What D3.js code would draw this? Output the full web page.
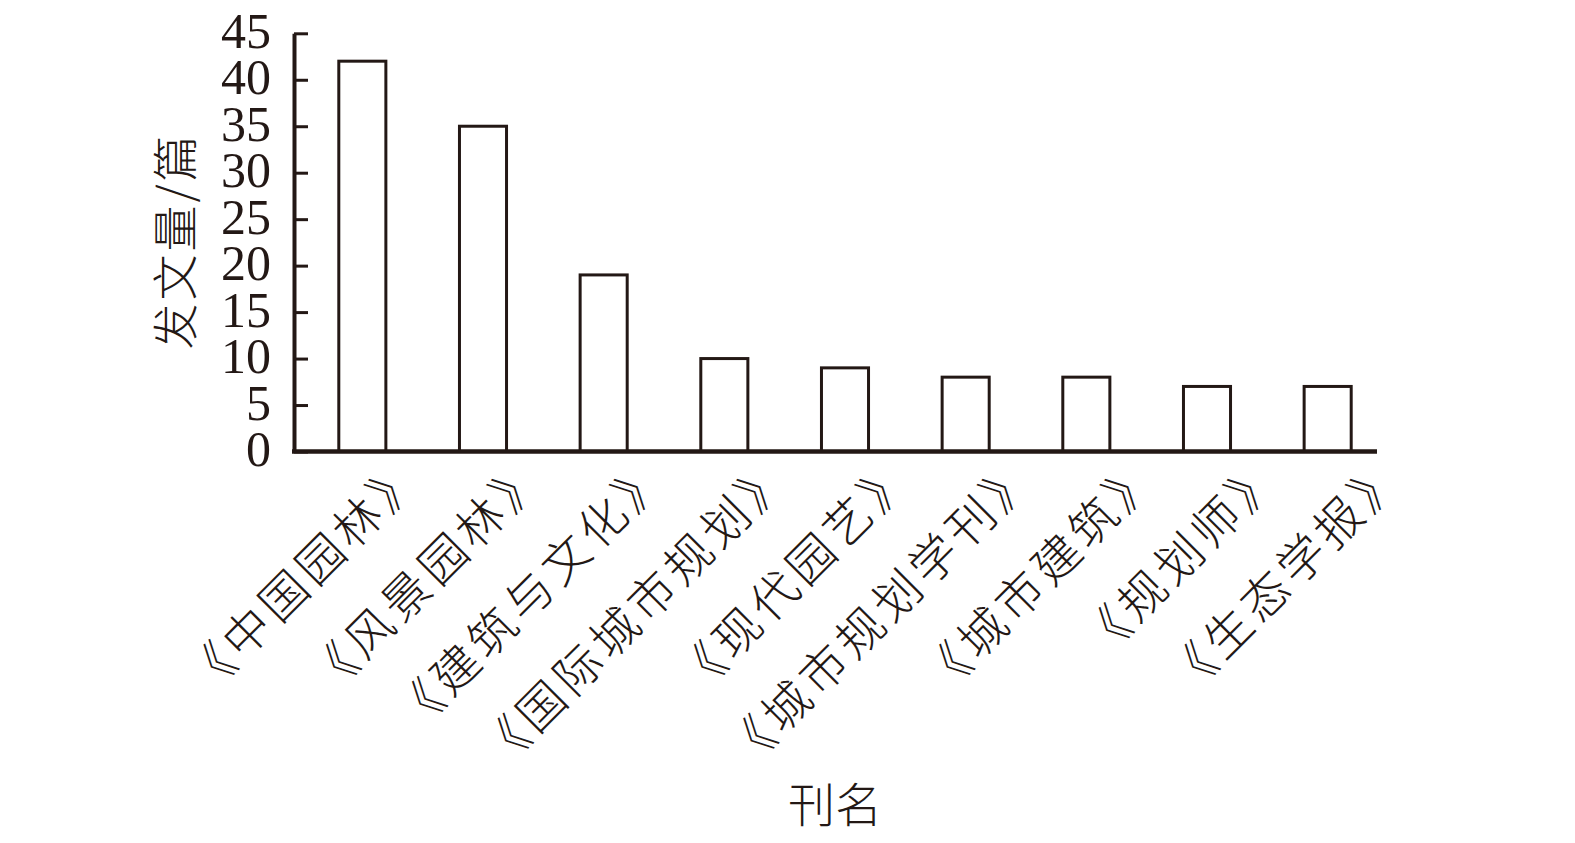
<!DOCTYPE html>
<html><head><meta charset="utf-8">
<script src="https://cdn.jsdelivr.net/npm/d3@7/dist/d3.min.js"></script>
<style>
html,body{margin:0;padding:0;background:#fff;}
svg{display:block;}
</style></head>
<body>
<svg id="chart" width="1575" height="843"></svg>
<script>
const categories = ["《中国园林》","《风景园林》","《建筑与文化》","《国际城市规划》","《现代园艺》","《城市规划学刊》","《城市建筑》","《规划师》","《生态学报》"];
const values = [42, 35, 19, 10, 9, 8, 8, 7, 7];
const yTicks = [0, 5, 10, 15, 20, 25, 30, 35, 40, 45];
const yTitle = "发文量/篇";
const xTitle = "刊名";

const ink = "#231815";
const svg = d3.select("#chart");
svg.append("rect").attr("width",1575).attr("height",843).attr("fill","#fff");

const y = d3.scaleLinear().domain([0,45]).range([451.5, 33.3]);
const x = d3.scaleBand().domain(categories).range([302, 1388]).paddingInner(0.61).paddingOuter(0.305);
// label anchor positions (labels in the source are spaced slightly wider than the bars)
const xl = d3.scalePoint().domain(categories).range([362.3, 1343.5]);
const axisX0 = 294, axisX1 = 1377;

// bars
svg.append("g").selectAll("rect").data(values).join("rect")
  .attr("x", (d,i)=>x(categories[i]))
  .attr("y", d=>y(d))
  .attr("width", x.bandwidth())
  .attr("height", d=>y(0)-y(d))
  .attr("fill","#fff").attr("stroke",ink).attr("stroke-width",3);

// y axis
const yAxis = d3.axisLeft(y).tickValues(yTicks).tickSizeInner(-14).tickSizeOuter(0).tickPadding(23);
const gy = svg.append("g").attr("transform",`translate(${axisX0},0)`).call(yAxis);
gy.select(".domain").attr("stroke",ink).attr("stroke-width",4);
gy.selectAll(".tick line").attr("stroke",ink).attr("stroke-width",3);
gy.selectAll(".tick text").attr("fill",ink)
  .style("font-family","'Liberation Serif','Times New Roman',serif")
  .style("font-size","50px").attr("dy","0.28em");

// x axis line
svg.append("line").attr("x1",axisX0-2).attr("x2",axisX1).attr("y1",y(0)).attr("y2",y(0))
  .attr("stroke",ink).attr("stroke-width",4.5);

// x labels
svg.append("g").selectAll("text").data(categories).join("text")
  .attr("transform", d=>`translate(${xl(d)+64},${y(0)+26}) rotate(-45)`)
  .attr("text-anchor","end")
  .attr("fill",ink)
  .style("font-family","'Noto Sans CJK SC',sans-serif")
  .style("font-size","47px")
  .style("font-weight","300")
  .style("letter-spacing","5px")
  .text(d=>d);

// titles
svg.append("text").attr("transform","translate(192,241) rotate(-90)")
  .attr("text-anchor","middle").attr("fill",ink)
  .style("font-family","'Noto Sans CJK SC',sans-serif").style("font-size","46px")
  .style("font-weight","300")
  .style("letter-spacing","3px")
  .text(yTitle);
svg.append("text").attr("x",835).attr("y",822)
  .attr("text-anchor","middle").attr("fill",ink)
  .style("font-family","'Noto Sans CJK SC',sans-serif").style("font-size","47px")
  .style("font-weight","300")
  .text(xTitle);
</script>
</body></html>
